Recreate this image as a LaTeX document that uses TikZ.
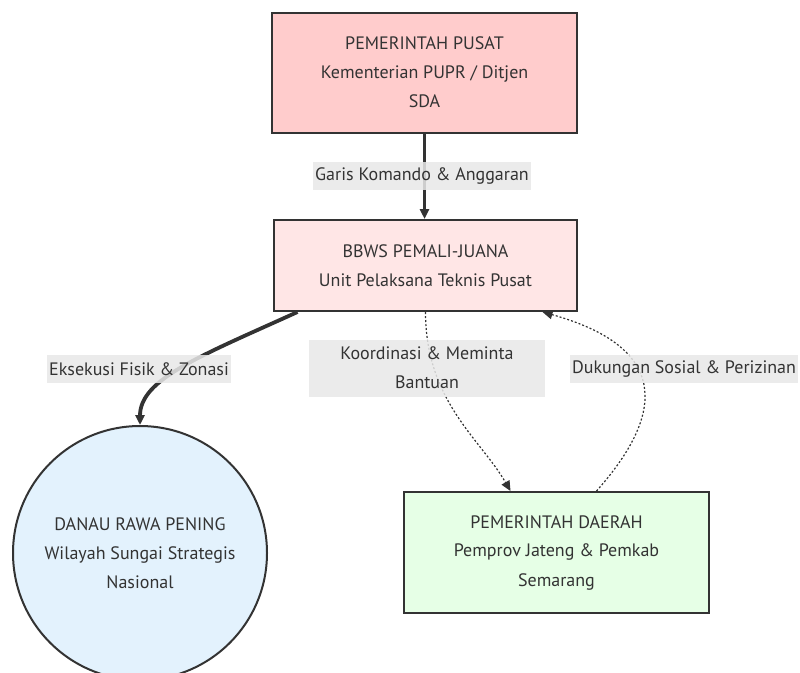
\documentclass[tikz,border=0pt]{standalone}
\usepackage{fontspec}
\setmainfont{PT Sans}
\usetikzlibrary{arrows.meta}
\definecolor{txt}{HTML}{333333}
\definecolor{strk}{HTML}{333333}
\definecolor{pusatfill}{HTML}{FFCCCC}
\definecolor{bbwsfill}{HTML}{FFE6E6}
\definecolor{danaufill}{HTML}{E3F2FD}
\definecolor{pemdafill}{HTML}{E6FFE6}
\definecolor{lblfill}{HTML}{E8E8E8}
\tikzset{
  boxnode/.style={draw=strk, line width=2pt, rectangle, align=center, text=txt,
    font=\fontsize{18}{29}\selectfont, inner sep=0pt},
  lakenode/.style={draw=strk, line width=2pt, circle, align=center, text=txt,
    font=\fontsize{18}{29}\selectfont, inner sep=0pt, minimum size=254pt, fill=danaufill},
  lbl/.style={fill=lblfill, fill opacity=0.85, text opacity=1, text=txt, align=center,
    font=\fontsize{18}{29}\selectfont, inner xsep=2pt, inner ysep=0pt, minimum height=28pt},
  tip/.style={-{Triangle[length=10pt,width=9pt]}},
  normaledge/.style={draw=strk, line width=3pt, tip},
  thickedge/.style={draw=strk, line width=3.8pt, tip},
  dottededge/.style={draw=strk, line width=1.2pt, dash pattern=on 2pt off 2pt, -{Triangle[length=10pt,width=9pt,sep=0pt]}},
}
\begin{document}
\begin{tikzpicture}[x=1pt,y=-1pt]
\useasboundingbox (0,0) rectangle (800,672);
\node[boxnode, fill=pusatfill, minimum width=305pt, minimum height=120pt] (pusat) at (424.5,72.5)
  {PEMERINTAH PUSAT\\Kementerian PUPR / Ditjen\\SDA};
\node[boxnode, fill=bbwsfill, minimum width=303pt, minimum height=91pt] (bbws) at (425.5,265.5)
  {BBWS PEMALI-JUANA\\Unit Pelaksana Teknis Pusat};
\node[lakenode] (danau) at (140,553)
  {DANAU RAWA PENING\\Wilayah Sungai Strategis\\Nasional};
\node[boxnode, fill=pemdafill, minimum width=305pt, minimum height=121pt] (pemda) at (556.5,552.5)
  {PEMERINTAH DAERAH\\Pemprov Jateng \& Pemkab\\Semarang};

\draw[normaledge] (pusat.south) -- (pusat.south |- bbws.north);
\draw[thickedge] ([xshift=-128pt]bbws.south) .. controls +(-97,44) and +(0,-46) .. (danau.north);
\draw[dottededge] (bbws.south) .. controls +(0,89) and +(-30,-52) .. ([xshift=-46pt]pemda.north);
\draw[dottededge] ([xshift=40pt]pemda.north) .. controls +(73,-82) and +(122,34) .. ([xshift=117pt]bbws.south);

\node[lbl] (l1) at (422,176) {Garis Komando \& Anggaran};
\node[lbl] (l2) at (139,369) {Eksekusi Fisik \& Zonasi};
\node[lbl, minimum height=57pt, minimum width=236pt] (l3) at (427,368) {Koordinasi \& Meminta\\Bantuan};
\node[lbl] (l4) at (684,369) {Dukungan Sosial \& Perizinan};
\end{tikzpicture}
\end{document}
